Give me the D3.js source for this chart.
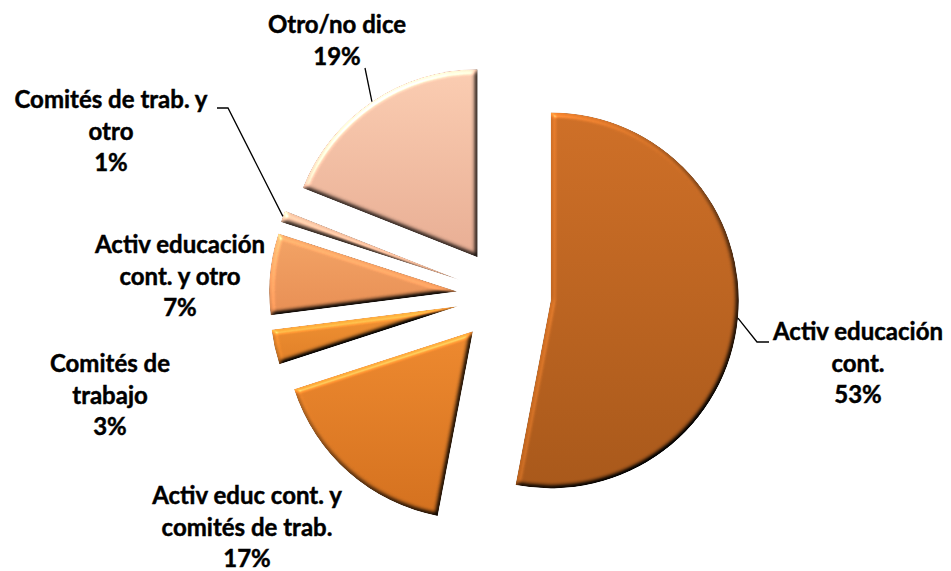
<!DOCTYPE html>
<html>
<head>
<meta charset="utf-8">
<script src="https://cdn.jsdelivr.net/npm/d3@7"></script>
<style>
  html, body { margin: 0; padding: 0; background: #fff; }
  svg { display: block; }
  .lbl { font-family: Lato, "Liberation Sans", sans-serif; font-weight: 700; font-size: 24px; fill: #000; stroke: #000; stroke-width: 0.45; }
</style>
</head>
<body>
<svg id="chart" width="951" height="571"></svg>
<script>
// data
const categories = [
  'Activ educación cont.',
  'Activ educ cont. y comités de trab.',
  'Comités de trabajo',
  'Activ educación cont. y otro',
  'Comités de trab. y otro',
  'Otro/no dice'
];
const values = [53, 17, 3, 7, 1, 19];
const labelLines = [
  ['Activ educación', 'cont.', '53%'],
  ['Activ educ cont. y', 'comités de trab.', '17%'],
  ['Comités de', 'trabajo', '3%'],
  ['Activ educación', 'cont. y otro', '7%'],
  ['Comités de trab. y', 'otro', '1%'],
  ['Otro/no dice', '19%']
];

// styles
const topColors = ['#cf7028', '#ee8a30', '#f29434', '#f3a466', '#f6c4a4', '#fbcdb2'];
const botColors = ['#a9591b', '#d4711f', '#e07f28', '#e88f55', '#e8ae8e', '#e8ae94'];

const CX = 504, CY = 296, R = 188, EXPLODE = 47;
const LINE_H = 31.5;

// label anchors (center x, first baseline y) and leader elbows
const labelPos = [
  { x: 858, y: 340, leader: [[757, 342], [769, 342]] },
  { x: 247, y: 504 },
  { x: 110, y: 372 },
  { x: 180, y: 253 },
  { x: 111, y: 108, leader: [[228, 108], [217, 108]] },
  { x: 337, y: 33, leader: [[365, 68]] }
];

const svg = d3.select('#chart');
const defs = svg.append('defs');

// bevel filter
const f = defs.append('filter').attr('id', 'bevel')
  .attr('color-interpolation-filters', 'sRGB')
  .attr('x', '-10%').attr('y', '-10%').attr('width', '120%').attr('height', '120%');
f.append('feGaussianBlur').attr('in', 'SourceAlpha').attr('stdDeviation', 2.6).attr('result', 'blur');
const diff = f.append('feDiffuseLighting').attr('in', 'blur').attr('surfaceScale', 4)
  .attr('diffuseConstant', 1).attr('lighting-color', '#fff').attr('result', 'diff');
diff.append('feDistantLight').attr('azimuth', 235).attr('elevation', 50);
f.append('feComposite').attr('in', 'SourceGraphic').attr('in2', 'diff')
  .attr('operator', 'arithmetic').attr('k1', 1 / Math.sin(50 * Math.PI / 180)).attr('k2', 0).attr('k3', 0).attr('k4', 0)
  .attr('result', 'lit');
const spec = f.append('feSpecularLighting').attr('in', 'blur').attr('surfaceScale', 4)
  .attr('specularConstant', 0.6).attr('specularExponent', 40).attr('lighting-color', '#fff')
  .attr('result', 'spec');
spec.append('feDistantLight').attr('azimuth', 235).attr('elevation', 30);
f.append('feComposite').attr('in', 'spec').attr('in2', 'SourceAlpha').attr('operator', 'in').attr('result', 'specIn');
f.append('feComposite').attr('in', 'lit').attr('in2', 'specIn')
  .attr('operator', 'arithmetic').attr('k1', 0).attr('k2', 1).attr('k3', 0.35).attr('k4', 0)
  .attr('result', 'bev');
f.append('feComposite').attr('in', 'bev').attr('in2', 'SourceAlpha').attr('operator', 'in');

values.forEach((v, i) => {
  const g = defs.append('linearGradient').attr('id', `grad${i}`)
    .attr('x1', 0).attr('y1', 0).attr('x2', 0).attr('y2', 1);
  g.append('stop').attr('offset', '0%').attr('stop-color', topColors[i]);
  g.append('stop').attr('offset', '100%').attr('stop-color', botColors[i]);
});

const pie = d3.pie().sort(null).value(d => d);
const arcs = pie(values);
const arc = d3.arc().innerRadius(0).outerRadius(R);

const offset = d => {
  const a = (d.startAngle + d.endAngle) / 2;
  return [Math.sin(a) * EXPLODE, -Math.cos(a) * EXPLODE];
};

const g = svg.append('g').attr('transform', `translate(${CX},${CY})`);

g.selectAll('path.slice')
  .data(arcs)
  .join('path')
  .attr('class', 'slice')
  .attr('d', arc)
  .attr('transform', d => `translate(${offset(d)})`)
  .attr('fill', (d, i) => `url(#grad${i})`)
  .attr('filter', 'url(#bevel)');

// leader lines from the middle of each slice's outer arc
arcs.forEach((d, i) => {
  const lp = labelPos[i];
  if (!lp.leader) return;
  const a = (d.startAngle + d.endAngle) / 2;
  const [ox, oy] = offset(d);
  const start = [CX + ox + Math.sin(a) * R, CY + oy - Math.cos(a) * R];
  svg.append('path')
    .attr('d', d3.line()([start, ...lp.leader]))
    .attr('fill', 'none')
    .attr('stroke', '#000')
    .attr('stroke-width', 1.3);
});

// labels
labelLines.forEach((lines, i) => {
  const lp = labelPos[i];
  const t = svg.append('text').attr('class', 'lbl').attr('text-anchor', 'middle');
  lines.forEach((s, j) => {
    t.append('tspan').attr('x', lp.x).attr('y', lp.y + j * LINE_H).text(s);
  });
});
</script>
</body>
</html>
